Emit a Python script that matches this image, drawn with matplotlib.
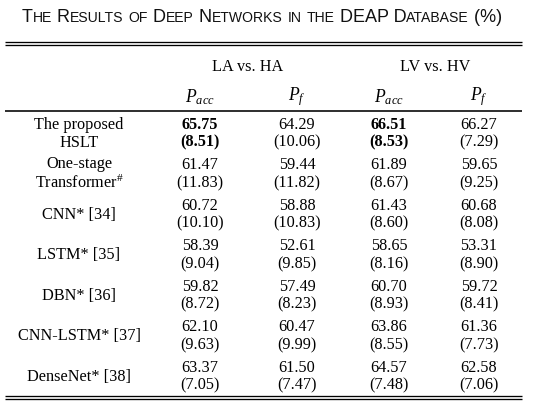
import matplotlib.pyplot as plt
from matplotlib.offsetbox import AnchoredOffsetbox, HPacker, TextArea

plt.rcParams["mathtext.fontset"] = "custom"
plt.rcParams["mathtext.rm"] = "Liberation Serif"
plt.rcParams["mathtext.it"] = "Liberation Serif:italic"
plt.rcParams["mathtext.bf"] = "Liberation Serif:bold"

# ---- data ----
title = "The Results of Deep Networks in the DEAP Database (%)"
groups = ["LA vs. HA", "LV vs. HV"]
metrics = [r"$P_{acc}$", r"$P_f$", r"$P_{acc}$", r"$P_f$"]
methods = [
    "The proposed\nHSLT",
    "One-stage\nTransformer$^{\\#}$",
    "CNN* [34]",
    "LSTM* [35]",
    "DBN* [36]",
    "CNN-LSTM* [37]",
    "DenseNet* [38]",
]
# mean values: LA/HA Pacc, LA/HA Pf, LV/HV Pacc, LV/HV Pf
means = [
    [65.75, 64.29, 66.51, 66.27],
    [61.47, 59.44, 61.89, 59.65],
    [60.72, 58.88, 61.43, 60.68],
    [58.39, 52.61, 58.65, 53.31],
    [59.82, 57.49, 60.70, 59.72],
    [62.10, 60.47, 63.86, 61.36],
    [63.37, 61.50, 64.57, 62.58],
]
stds = [
    [8.51, 10.06, 8.53, 7.29],
    [11.83, 11.82, 8.67, 9.25],
    [10.10, 10.83, 8.60, 8.08],
    [9.04, 9.85, 8.16, 8.90],
    [8.72, 8.23, 8.93, 8.41],
    [9.63, 9.99, 8.55, 7.73],
    [7.05, 7.47, 7.48, 7.06],
]
bold_cells = [(0, 0), (0, 2)]

# ---- layout (pixel coordinates, y downwards) ----
W, H = 557, 414
x_left, x_right = 5, 522
method_x = 79
col_x = [200, 297, 389, 479]
group_x = [248, 435]
row_y0, row_step, line_gap = 125, 40.5, 17.5
serif = "Liberation Serif"
fs = 11.7

fig = plt.figure(figsize=(W / 100, H / 100), dpi=100)
ax = fig.add_axes([0, 0, 1, 1])
ax.set_xlim(0, W)
ax.set_ylim(H, 0)
ax.axis("off")

# title in small caps
runs = []
for ch in title:
    big = not ch.islower()
    if runs and runs[-1][1] == big:
        runs[-1][0] += ch.upper()
    else:
        runs.append([ch.upper(), big])
parts = [
    TextArea(txt, textprops=dict(fontsize=13.0 if big else 10.1, family="Liberation Sans", color="#111111"))
    for txt, big in runs
]
box = HPacker(children=parts, align="baseline", pad=0, sep=0)
anchored = AnchoredOffsetbox(
    loc="center", child=box, pad=0, borderpad=0, frameon=False,
    bbox_to_anchor=(262, 17), bbox_transform=ax.transData,
)
ax.add_artist(anchored)

# rules
rule_kw = dict(color="black", solid_capstyle="butt")
for y in (43.2, 46.2, 397.5, 400.5):
    ax.plot([x_left, x_right], [y, y], lw=0.95, **rule_kw)
ax.plot([x_left, x_right], [112, 112], lw=1.15, **rule_kw)

# headers
for gx, g in zip(group_x, groups):
    ax.text(gx, 67, g, ha="center", va="center", family=serif, fontsize=fs)
for cx, m in zip(col_x, metrics):
    ax.text(cx, 97, m, ha="center", va="center", family=serif, fontsize=fs + 1)

# body
for i, name in enumerate(methods):
    y1 = row_y0 + i * row_step
    y2 = y1 + line_gap
    ax.text(method_x, (y1 + y2) / 2, name, ha="center", va="center", family=serif,
            fontsize=fs, linespacing=1.2, multialignment="center")
    for j, cx in enumerate(col_x):
        weight = "bold" if (i, j) in bold_cells else "normal"
        ax.text(cx, y1, f"{means[i][j]:.2f}", ha="center", va="center",
                family=serif, fontsize=fs, fontweight=weight)
        ax.text(cx, y2, f"({stds[i][j]:.2f})", ha="center", va="center",
                family=serif, fontsize=fs, fontweight=weight)

fig.savefig("out.png", dpi=100)
